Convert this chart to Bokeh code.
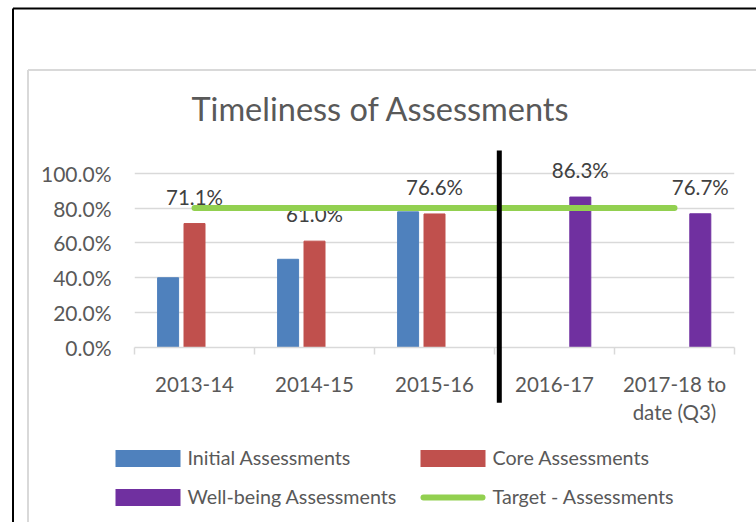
from bokeh.plotting import figure
from bokeh.models import (ColumnDataSource, Range1d, LinearAxis,
                          FixedTicker, PrintfTickFormatter)
from bokeh.transform import dodge
from bokeh.core.properties import value
from bokeh.embed import file_html
from bokeh.resources import INLINE

# ---- data ----
categories = ["2013-14", "2014-15", "2015-16", "2016-17", "2017-18 to\ndate (Q3)"]
series_names = ["Initial Assessments", "Core Assessments",
                "Well-being Assessments", "Target - Assessments"]
initial_cats = ["2013-14", "2014-15", "2015-16"]
initial_vals = [40.0, 50.6, 77.8]
core_cats = ["2013-14", "2014-15", "2015-16"]
core_vals = [71.1, 61.0, 76.6]
wellbeing_cats = ["2016-17", "2017-18 to\ndate (Q3)"]
wellbeing_vals = [86.3, 76.7]
target_cats = categories
target_vals = [80.0, 80.0, 80.0, 80.0, 80.0]
y_ticks = [0, 20, 40, 60, 80, 100]
divider_cat = ["2016-17"]
divider_y0 = [-31.7]
divider_y1 = [113]

FONT = "Lato"
GREY = "#595959"
LINE = "#d9d9d9"
BLUE, RED, PURPLE, GREEN = "#4F81BD", "#C0504D", "#7030A0", "#92D050"

# layout (pixels)
W, H = 756, 522
ML, MR, MT, MB = 134, 22, 150, 175
Y_MAX = 113

center = {c: i + 0.5 for i, c in enumerate(categories)}
edges = list(range(len(categories) + 1))
NX = len(categories)

p = figure(width=W, height=H,
           x_range=Range1d(0, NX), y_range=Range1d(0, Y_MAX),
           output_backend="svg", toolbar_location=None, x_axis_location=None,
           min_border_left=ML, min_border_right=MR, min_border_top=MT, min_border_bottom=MB)
p.outline_line_color = None
p.background_fill_color = "white"
p.border_fill_color = "white"

# title
p.title.text = "Timeliness of Assessments"
p.title.text_font = FONT
p.title.text_font_size = "32.5px"
p.title.text_font_style = "normal"
p.title.text_color = GREY
p.title.align = "left"
p.title.offset = 57
p.title.standoff = 46

# y axis
yax = p.yaxis[0]
yax.ticker = FixedTicker(ticks=y_ticks)
yax.formatter = PrintfTickFormatter(format="%.1f%%")
yax.axis_line_color = None
yax.major_tick_line_color = None
yax.minor_tick_line_color = None
yax.major_tick_out = 0
yax.major_label_standoff = 23
yax.major_label_text_font = FONT
yax.major_label_text_font_size = "21px"
yax.major_label_text_color = GREY

p.xgrid.visible = False
p.ygrid.ticker = FixedTicker(ticks=y_ticks)
p.ygrid.grid_line_color = LINE
p.ygrid.grid_line_width = 1.5

# x axis: ticks at category edges, then category labels
tick_axis = LinearAxis(ticker=FixedTicker(ticks=edges),
                       major_tick_out=7, major_tick_in=0, minor_tick_line_color=None,
                       major_tick_line_color=LINE, major_tick_line_width=1.5,
                       axis_line_color=LINE, axis_line_width=1.5,
                       major_label_overrides={e: "" for e in edges},
                       major_label_text_font_size="1px", major_label_standoff=0)
p.add_layout(tick_axis, "below")
cat_axis = LinearAxis(ticker=FixedTicker(ticks=[center[c] for c in categories]),
                      major_label_overrides={center[c]: c for c in categories},
                      axis_line_color=None, major_tick_line_color=None,
                      minor_tick_line_color=None, major_tick_out=0,
                      major_label_standoff=17,
                      major_label_text_font=FONT, major_label_text_font_size="20.5px",
                      major_label_text_color=GREY)
p.add_layout(cat_axis, "below")

# bars
src_i = ColumnDataSource(dict(x=[center[c] for c in initial_cats], val=initial_vals))
src_c = ColumnDataSource(dict(x=[center[c] for c in core_cats], val=core_vals,
                              lab=[f"{v:.1f}%" for v in core_vals]))
src_w = ColumnDataSource(dict(x=[center[c] for c in wellbeing_cats], val=wellbeing_vals,
                              lab=[f"{v:.1f}%" for v in wellbeing_vals]))
src_t = ColumnDataSource(dict(x=[center[c] for c in target_cats], val=target_vals))

p.vbar(x=dodge("x", -0.22), top="val", width=0.175, source=src_i, color=BLUE)
p.vbar(x=dodge("x", 0.0), top="val", width=0.175, source=src_c, color=RED)
p.vbar(x=dodge("x", 0.215), top="val", width=0.175, source=src_w, color=PURPLE)

# data labels
for src, off in ((src_c, 0.0), (src_w, 0.215)):
    p.text(x=dodge("x", off), y="val", text="lab", source=src,
           y_offset=-27, text_align="center", text_baseline="middle",
           text_font=value(FONT), text_font_size="20.5px", text_color="#404040")

# target line
p.line(x="x", y="val", source=src_t, line_width=6, line_color=GREEN, line_cap="round")

# divider
src_d = ColumnDataSource(dict(x=[center[c] for c in divider_cat], y0=divider_y0, y1=divider_y1))
p.segment(x0=dodge("x", -0.46), y0="y0", x1=dodge("x", -0.46), y1="y1",
          source=src_d, line_width=5, line_color="black", level="overlay")

# ---- helpers: canvas pixels -> data space (for decorations outside the plot area)
FW, FH = W - ML - MR, H - MT - MB
def px_x(px):
    return (px - ML) / FW * NX
def px_y(py):
    return (H - MB - py) / FH * Y_MAX

# page / chart-area borders
for bx, by, col in ((12.5, 8.0, "black"), (27.5, 69.5, LINE)):
    p.multi_line(xs=[[px_x(bx), px_x(bx)], [px_x(bx), px_x(W + 20)]],
                 ys=[[px_y(by), px_y(H + 20)], [px_y(by), px_y(by)]],
                 line_color=col, line_width=2, level="overlay")

# legend (two rows x two columns)
leg_cols = [115, 420]
leg_rows = [458, 497]
sw_w, sw_h, gap = 65, 17, 7
slots = [(0, 0), (1, 0), (0, 1), (1, 1)]
colors = [BLUE, RED, PURPLE]
for k, (ci, ri) in enumerate(slots):
    lx, ly = leg_cols[ci], leg_rows[ri]
    if k < 3:
        p.quad(left=px_x(lx), right=px_x(lx + sw_w), top=px_y(ly - sw_h / 2),
               bottom=px_y(ly + sw_h / 2), fill_color=colors[k], line_color=None,
               level="overlay")
    else:
        p.line(x=[px_x(lx + 3), px_x(lx + sw_w - 3)], y=[px_y(ly), px_y(ly)],
               line_width=6, line_color=GREEN, line_cap="round", level="overlay")
    p.text(x=[px_x(lx + sw_w + gap)], y=[px_y(ly - 1)], text=[series_names[k]],
           text_align="left", text_baseline="middle", text_font=value(FONT),
           text_font_size="19.7px", text_color=GREY, level="overlay")

open("out.html", "w").write(file_html(p, INLINE))
